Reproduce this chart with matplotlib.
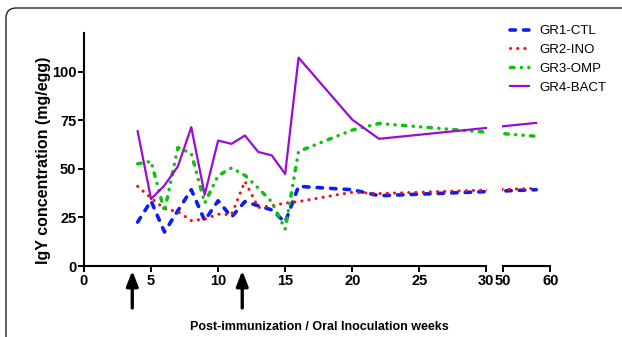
import numpy as np
import matplotlib
matplotlib.use("Agg")
import matplotlib.pyplot as plt
from matplotlib.patches import FancyBboxPatch
from matplotlib.transforms import IdentityTransform, blended_transform_factory

plt.rcParams['font.family'] = ['Liberation Sans', 'DejaVu Sans']

# ------------------ data ------------------
weeks = [4, 5, 6, 7, 8, 9, 10, 11, 12, 13, 14, 15, 16, 20, 22, 57]
gr1_ctl = [22.6, 33.5, 17.5, 28.5, 39.3, 23.4, 33.6, 25.2, 33.2, 31.0, 28.9, 22.5, 41.0, 39.3, 36.2, 39.3]
gr2_ino = [41.0, 35.0, 29.5, 28.0, 23.4, 24.1, 26.7, 26.4, 43.6, 30.1, 31.0, 32.4, 33.2, 38.0, 37.3, 40.0]
gr3_omp = [52.6, 53.9, 28.1, 61.0, 58.0, 32.4, 46.5, 50.5, 46.7, 40.1, 33.0, 19.0, 59.0, 70.0, 73.4, 66.8]
gr4_bact = [69.4, 34.5, 41.5, 51.3, 71.5, 36.7, 64.6, 62.9, 67.2, 58.7, 57.0, 47.4, 107.3, 75.4, 65.5, 73.7]
series_names = ["GR1-CTL", "GR2-INO", "GR3-OMP", "GR4-BACT"]
immunization_weeks = [3.6, 11.8]
y_ticks = [0, 25, 50, 75, 100]
x_ticks_left = [0, 5, 10, 15, 20, 25, 30]
x_ticks_right = [50, 60]

# ------------------ broken x axis (30 -> 50) ------------------
GAP = 1.24      # width of the break, in "weeks" of the left part
RATIO = 0.354   # compression of the 50-60 part


def fwd(x):
    x = np.asarray(x, dtype=float)
    return np.where(x <= 30, x,
                    np.where(x >= 50, 30 + GAP + (x - 50) * RATIO, 30 + (x - 30) * GAP / 20))


def inv(u):
    u = np.asarray(u, dtype=float)
    return np.where(u <= 30, u,
                    np.where(u >= 30 + GAP, 50 + (u - 30 - GAP) / RATIO, 30 + (u - 30) * 20 / GAP))


W, H = 622, 337
fig = plt.figure(figsize=(W / 100, H / 100), dpi=100)

# pixel layout
X0, PX = 84, 13.41          # x pixel of week 0, pixels per (transformed) week
Y0, Y1 = 266, 33            # bottom / top of y axis
left_lim = (0, 30.3)
right_lim = (49.3, 60)


def ax_rect(lim):
    a, b = fwd(lim[0]), fwd(lim[1])
    x_a = X0 + a * PX
    return [x_a / W, (H - Y0) / H, (b - a) * PX / W, (Y0 - Y1) / H]


ax1 = fig.add_axes(ax_rect(left_lim))
ax2 = fig.add_axes(ax_rect(right_lim))

styles = [
    dict(color='#0a1ef5', lw=2.6, linestyle=(0, (1.5, 2.25)), dash_capstyle='round'),
    dict(color='#ff0a0a', lw=2.2, linestyle=(0, (0.05, 2.3)), dash_capstyle='round'),
    dict(color='#10c010', lw=2.5, linestyle=(0, (1.0, 2.1, 0.05, 2.1, 0.05, 2.1)), dash_capstyle='round'),
    dict(color='#9a0bd6', lw=1.6, linestyle='-'),
]
series = [gr1_ctl, gr2_ino, gr3_omp, gr4_bact]

handles = []
for ax, lim in [(ax1, left_lim), (ax2, right_lim)]:
    ax.set_xscale('function', functions=(fwd, inv))
    ax.set_xlim(*lim)
    ax.set_ylim(0, 120)
    for vals, name, st in zip(series, series_names, styles):
        ln, = ax.plot(weeks, vals, label=name, **st)
        if ax is ax1:
            handles.append(ln)
    for s in ['top', 'right']:
        ax.spines[s].set_visible(False)
    for s in ax.spines.values():
        s.set_linewidth(1.5)
    ax.tick_params(axis='both', direction='out', length=4, width=1.4, labelsize=10.5, pad=1.5)

ax1.set_xticks(x_ticks_left)
ax1.set_xticks([30], minor=True)
ax1.spines['bottom'].set_bounds(0, 30)
ax1.set_yticks(y_ticks)
ax1.spines['left'].set_bounds(0, 120)

ax2.set_xticks(x_ticks_right)
ax2.set_xticks([50], minor=True)
ax2.spines['bottom'].set_bounds(50, 60)
ax2.spines['left'].set_visible(False)
ax2.set_yticks([])

for ax in (ax1, ax2):
    ax.tick_params(axis='x', which='minor', direction='inout', length=9, width=1.4)
    for lab in ax.get_xticklabels() + ax.get_yticklabels():
        lab.set_fontweight('bold')

# immunization arrows below the axis
trans = blended_transform_factory(ax1.transData, ax1.transAxes)
for wk in immunization_weeks:
    ax1.annotate('', xy=(wk, -0.02), xytext=(wk, -0.18), xycoords=trans, textcoords=trans,
                 annotation_clip=False,
                 arrowprops=dict(arrowstyle='-|>,head_length=0.9,head_width=0.35', lw=2.4,
                                 color='black', shrinkA=0, shrinkB=0))

ax1.set_ylabel("IgY concentration (mg/egg)", fontsize=11.5, fontweight='bold')
ax1.yaxis.set_label_coords(-0.082, 0.455)
fig.text(319 / W, 1 - 327 / H, "Post-immunization / Oral Inoculation weeks",
         ha='center', va='center', fontsize=9, fontweight='bold')

fig.legend(handles, series_names, loc='upper left', bbox_to_anchor=(510 / W, 1 - 25 / H),
           frameon=False, fontsize=9.5, handlelength=1.45, handletextpad=0.75,
           labelspacing=0.5, borderpad=0, borderaxespad=0)

# rounded frame of the published figure panel
frame = FancyBboxPatch((6, -30), 700, H - 8 + 30, boxstyle='round,pad=0,rounding_size=10',
                       transform=IdentityTransform(), fill=False, lw=1.0, ec='#222222')
fig.add_artist(frame)

fig.savefig('out.png', dpi=100)
